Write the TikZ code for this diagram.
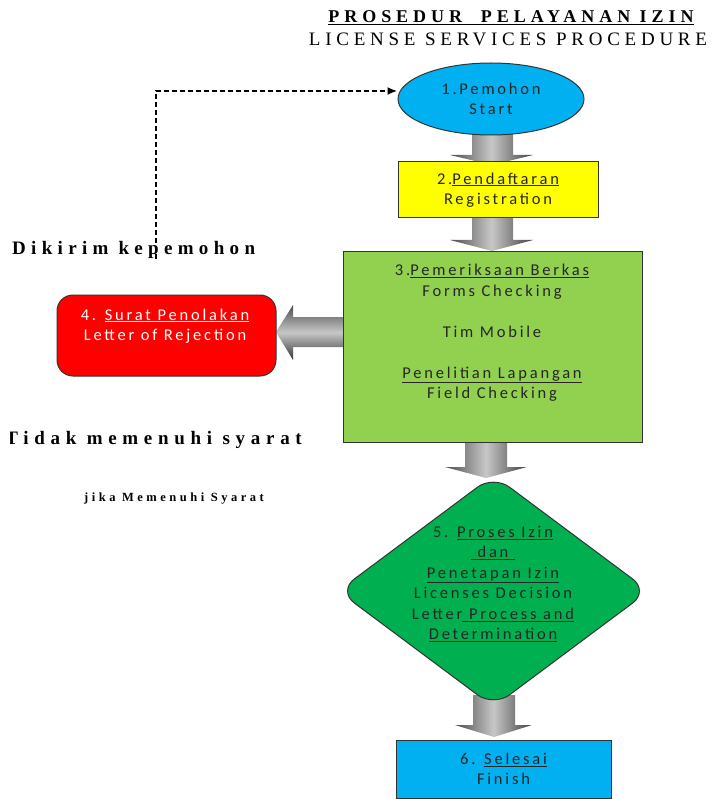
\documentclass[tikz,border=0pt]{standalone}
\usepackage{fontspec}
\setmainfont{Carlito}
\newfontfamily\tfont{Liberation Serif}
\usetikzlibrary{shapes.geometric,arrows.meta}
\definecolor{cyanA}{HTML}{00B0F0}
\definecolor{yelA}{HTML}{FFFF00}
\definecolor{grnA}{HTML}{92D050}
\definecolor{grnB}{HTML}{00B050}
\definecolor{redA}{HTML}{FF0000}
\tikzset{
  boxtxt/.style={align=center, text=black!85, font=\fontsize{16.5}{20.5}\selectfont\addfontfeatures{LetterSpace=17}},
  flowbox/.style={draw=black!80, line width=1pt, inner sep=0pt},
  sidelbl/.style={font=\tfont\bfseries\fontsize{19}{22}\selectfont\addfontfeatures{LetterSpace=28}, inner sep=0pt},
  sidelblw/.style={font=\tfont\bfseries\fontsize{19}{22}\selectfont\addfontfeatures{LetterSpace=30}, inner sep=0pt},
  garrowv/.style={left color=black!70, right color=black!75, middle color=black!22},
  garrowh/.style={top color=black!70, bottom color=black!80, middle color=black!22},
}
\begin{document}
\begin{tikzpicture}[x=1pt,y=-1pt]
\path[fill=white] (0,0) rectangle (711,799);
\useasboundingbox (0,0) rectangle (711,799);

% title
\node[font=\tfont\bfseries\fontsize{18}{20}\selectfont\addfontfeatures{LetterSpace=27.5}, inner sep=0pt] (title) at (511,18) {\underline{PROSEDUR\ \ PELAYANAN IZIN}};
\node[font=\tfont\fontsize{19}{21}\selectfont\addfontfeatures{LetterSpace=25}, inner sep=0pt] (subtitle) at (508,39) {LICENSE SERVICES PROCEDURE};

% gray block arrows (drawn first, boxes overlap their ends)
\shade[garrowv] (472,128) -- (513,128) -- (513,155) -- (533,155) -- (492,165) -- (450,155) -- (472,155) -- cycle;
\shade[garrowv] (472,215) -- (513,215) -- (513,240) -- (533,240) -- (492,251) -- (450,240) -- (472,240) -- cycle;
\shade[garrowv] (465,440) -- (507,440) -- (507,467) -- (527,467) -- (486,478) -- (445,467) -- (465,467) -- cycle;
\shade[garrowv] (473,695) -- (515,695) -- (515,725) -- (532,725) -- (494,737) -- (455,725) -- (473,725) -- cycle;
\shade[garrowh] (345,317) -- (345,347) -- (293,347) -- (293,360) -- (276,332) -- (293,305) -- (293,317) -- cycle;

% nodes
\node[flowbox, ellipse, fill=cyanA, minimum width=186pt, minimum height=72pt, boxtxt] (start) at (491,99)
  {1.Pemohon\\Start};
\node[flowbox, rectangle, fill=yelA, minimum width=200pt, minimum height=56pt, boxtxt] (reg) at (498,190)
  {2.\underline{Pendaftaran}\\Registration};
\node[flowbox, rectangle, fill=grnA, minimum width=299pt, minimum height=190pt] (check) at (492.5,347) {};
\node[boxtxt] (checkt) at (492,333)
  {3.\underline{Pemeriksaan Berkas}\\Forms Checking\\[20.5pt]Tim Mobile\\[20.5pt]\underline{Penelitian Lapangan}\\Field Checking};
\node[flowbox, rectangle, rounded corners=16pt, fill=redA, minimum width=219pt, minimum height=81pt] (rej) at (166.5,335.5) {};
\node[boxtxt, text=white] (rejt) at (165,326) {4. \underline{Surat Penolakan}\\Letter of Rejection};
\node[flowbox, diamond, rounded corners=20pt, fill=grnB, minimum width=311pt, minimum height=232pt] (proc) at (493.5,591) {};
\node[boxtxt] (proct) at (493,584)
  {5. \underline{Proses Izin}\\\underline{\ dan\ }\\\underline{Penetapan Izin}\\Licenses Decision\\Letter\underline{ Process and}\\\underline{Determination}};
\node[flowbox, rectangle, fill=cyanA, minimum width=215pt, minimum height=58pt, boxtxt] (fin) at (503.5,769)
  {6. \underline{Selesai}\\Finish};

% side labels
\node[sidelbl, anchor=west] (kirim) at (12,250) {Dikirim kepemohon};
\begin{scope}
\clip (10,400) rectangle (400,470);
\node[sidelblw, anchor=east] (tidak) at (302,440) {Tidak memenuhi syarat};
\end{scope}
\node[font=\tfont\bfseries\fontsize{12.5}{14}\selectfont\addfontfeatures{LetterSpace=28}, inner sep=0pt] (jika) at (174,499) {jika Memenuhi Syarat};

% dashed return connector
\coordinate (ret) at (156,259);
\draw[line width=2.6pt, dash pattern=on 5pt off 3pt, -{Latex[length=10pt,width=8pt]}] (ret) |- ([yshift=8pt]start.west);
\end{tikzpicture}
\end{document}
